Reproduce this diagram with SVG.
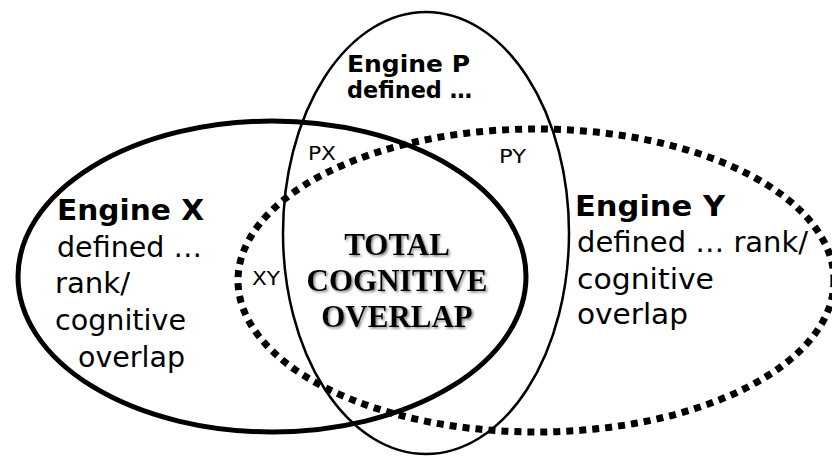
<svg xmlns="http://www.w3.org/2000/svg" width="832" height="457" viewBox="0 0 832 457">
<style>
.sans{font-family:"DejaVu Sans","Verdana",sans-serif;fill:#000}
.b{font-weight:bold}
.lg{font-size:27.5px}
.md{font-size:23.5px}
.sm{font-size:20px}
.serif{font-family:"Liberation Serif","Times New Roman",serif;font-weight:bold;font-size:31px;fill:#000;text-anchor:middle}
.ring{fill:none;stroke:#000}
</style>
<defs>
<filter id="shadow" x="-10%" y="-20%" width="120%" height="150%">
<feDropShadow dx="1.5" dy="1.5" stdDeviation="0.8" flood-color="#777" flood-opacity="0.9"/>
</filter>
</defs>
<rect width="832" height="457" fill="#fff"/>
<g id="engine-x">
<ellipse class="ring" cx="272" cy="276.5" rx="254" ry="155.5" stroke-width="5"/>
<text class="sans b lg" x="57" y="220" textLength="147" lengthAdjust="spacingAndGlyphs">Engine X</text>
<text class="sans lg" x="57" y="257" textLength="145" lengthAdjust="spacingAndGlyphs">defined …</text>
<text class="sans lg" x="55" y="293" textLength="75" lengthAdjust="spacingAndGlyphs">rank/</text>
<text class="sans lg" x="55" y="330" textLength="131" lengthAdjust="spacingAndGlyphs">cognitive</text>
<text class="sans lg" x="78" y="367" textLength="107" lengthAdjust="spacingAndGlyphs">overlap</text>
</g>
<g id="engine-y">
<ellipse class="ring" cx="536" cy="280.5" rx="298" ry="151.5" stroke-width="7" stroke-dasharray="7 6"/>
<text class="sans b lg" x="575" y="216" textLength="150" lengthAdjust="spacingAndGlyphs">Engine Y</text>
<text class="sans lg" x="577" y="252" textLength="231" lengthAdjust="spacingAndGlyphs">defined … rank/</text>
<text class="sans lg" x="577" y="289" textLength="137" lengthAdjust="spacingAndGlyphs">cognitive</text>
<text class="sans lg" x="577" y="324" textLength="111" lengthAdjust="spacingAndGlyphs">overlap</text>
</g>
<g id="engine-p">
<ellipse class="ring" cx="426" cy="233" rx="143" ry="221" stroke-width="2.5"/>
<text class="sans b md" x="347" y="72" textLength="123" lengthAdjust="spacingAndGlyphs">Engine P</text>
<text class="sans b md" x="347" y="98" textLength="125" lengthAdjust="spacingAndGlyphs">defined …</text>
</g>
<g id="region-px">
<text class="sans sm" x="308" y="160" textLength="28" lengthAdjust="spacingAndGlyphs">PX</text>
</g>
<g id="region-py">
<text class="sans sm" x="499" y="163" textLength="27" lengthAdjust="spacingAndGlyphs">PY</text>
</g>
<g id="region-xy">
<text class="sans sm" x="252" y="285" textLength="28" lengthAdjust="spacingAndGlyphs">XY</text>
</g>
<g id="total-overlap" filter="url(#shadow)">
<text class="serif" x="397" y="255">TOTAL</text>
<text class="serif" x="397" y="291">COGNITIVE</text>
<text class="serif" x="397" y="327">OVERLAP</text>
</g>
<g id="connectors"/>
</svg>
